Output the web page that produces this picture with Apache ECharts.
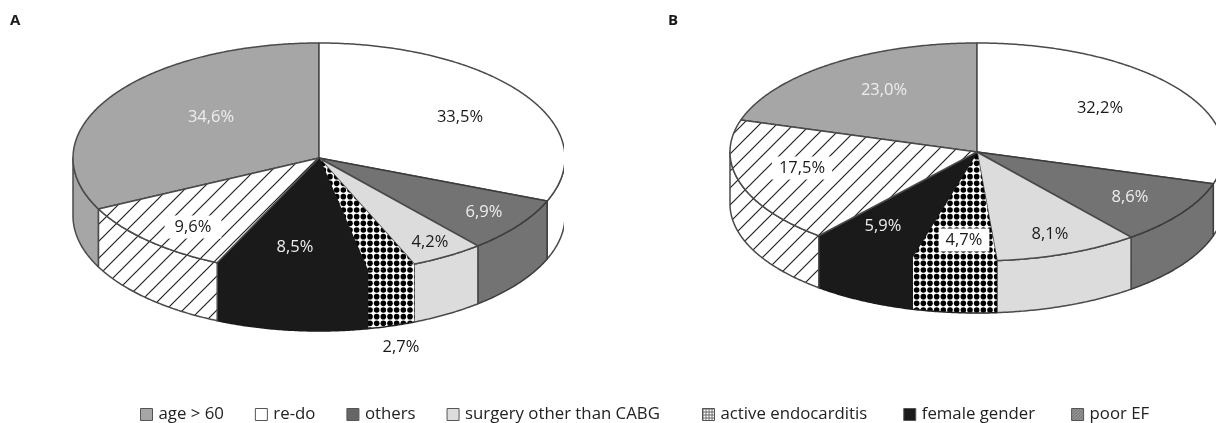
<!DOCTYPE html>
<html>
<head>
<meta charset="utf-8">
<style>
  html, body { margin: 0; padding: 0; background: #fff; }
  #chart { width: 1216px; height: 423px; }
</style>
<script src="https://cdn.jsdelivr.net/npm/echarts@6/dist/echarts.min.js"></script>
</head>
<body>
<div id="chart"></div>
<script>
// legend order; slices run clockwise from the second one at 12 o'clock
const categories = ['age > 60', 're-do', 'others', 'surgery other than CABG', 'active endocarditis', 'female gender', 'poor EF'];
const valuesA = [34.6, 33.5, 6.9, 4.2, 2.7, 8.5, 9.6];
const valuesB = [23.0, 32.2, 8.6, 8.1, 4.7, 5.9, 17.5];
const labelsA = ['34,6%', '33,5%', '6,9%', '4,2%', '2,7%', '8,5%', '9,6%'];
const labelsB = ['23,0%', '32,2%', '8,6%', '8,1%', '4,7%', '5,9%', '17,5%'];

// pie geometry
const pies = [
  { values: valuesA, labels: labelsA, cx: 319, cy: 158, rx: 246, ry: 115, depth: 58, clipRight: 564,
    labelPos: [[211, 117], [460, 117], [484, 212], [430, 242], [401, 347], [295, 247], [193, 227]] },
  { values: valuesB, labels: labelsB, cx: 977, cy: 152, rx: 247, ry: 109, depth: 52, clipRight: 1216,
    labelPos: [[884, 90], [1100, 108], [1130, 197], [1050, 234], [964, 240], [883, 226], [802, 168]] }
];
const perspective = 10; // degrees, the excel 3d pie squeezes slices toward the sides
const edgeColor = '#4a4a4a';
const fontFamily = '"Open Sans", sans-serif';

function makePattern(size, draw) {
  const c = document.createElement('canvas');
  c.width = size;
  c.height = size;
  const ctx = c.getContext('2d');
  ctx.fillStyle = '#fff';
  ctx.fillRect(0, 0, size, size);
  draw(ctx, size);
  return { image: c, repeat: 'repeat' };
}

// 3 x 3 dots in a 20px tile gives the 6.67px pitch of the original
const dots = makePattern(20, (ctx, s) => {
  const step = s / 3;
  ctx.fillStyle = '#000';
  for (let i = 0; i < 3; i++) {
    for (let j = 0; j < 3; j++) {
      ctx.beginPath();
      ctx.arc(step * (i + 0.5), step * (j + 0.5), 2.8, 0, Math.PI * 2);
      ctx.fill();
    }
  }
});
const hatch = makePattern(17, (ctx, s) => {
  ctx.strokeStyle = '#222';
  ctx.lineWidth = 1.2;
  ctx.beginPath();
  ctx.moveTo(-2, s + 2);
  ctx.lineTo(s + 2, -2);
  ctx.moveTo(-2, 2);
  ctx.lineTo(2, -2);
  ctx.moveTo(s - 2, s + 2);
  ctx.lineTo(s + 2, s - 2);
  ctx.stroke();
});
const gridIcon = makePattern(3, (ctx, s) => {
  ctx.fillStyle = '#666';
  ctx.fillRect(0, 0, s, 1);
  ctx.fillRect(0, 0, 1, s);
});
const hatchIcon = makePattern(3, (ctx, s) => {
  ctx.fillStyle = '#aaa';
  ctx.fillRect(0, 0, s, s);
  ctx.fillStyle = '#444';
  ctx.fillRect(2, 0, 1, 1);
  ctx.fillRect(1, 1, 1, 1);
  ctx.fillRect(0, 2, 1, 1);
});

const fills = ['#a6a6a6', '#fff', '#737373', '#dcdcdc', dots, '#1a1a1a', hatch];
const strokes = [edgeColor, edgeColor, '#3c3c3c', edgeColor, 'none', '#1a1a1a', edgeColor];
const iconFills = ['#a6a6a6', '#fff', '#666', '#dcdcdc', gridIcon, '#1a1a1a', hatchIcon];
const labelColors = ['#eee', '#1a1a1a', '#eee', '#1a1a1a', '#1a1a1a', '#eee', '#1a1a1a'];
// labels that sit on a pattern get a white box
const labelBoxes = [
  [null, null, null, null, null, null, [3, 10]],
  [null, null, null, null, [3, 7], null, [3, 7]]
];

function warp(deg) {
  return deg - perspective * Math.sin(deg * Math.PI / 180);
}

function sliceRange(pie, idx) {
  // the first slice ends at 12 o'clock
  let start = -pie.values[0] * 3.6;
  for (let i = 0; i < idx; i++) start += pie.values[i] * 3.6;
  return [start, start + pie.values[idx] * 3.6];
}

function rimPoint(pie, deg, drop) {
  const a = deg * Math.PI / 180;
  return [pie.cx + pie.rx * Math.sin(a), pie.cy - pie.ry * Math.cos(a) + drop];
}

function arcPoints(pie, from, to, drop) {
  const pts = [];
  const n = Math.max(2, Math.ceil(Math.abs(to - from) * 2));
  for (let i = 0; i <= n; i++) pts.push(rimPoint(pie, from + (to - from) * i / n, drop));
  return pts;
}

function renderSlice(catIdx, params, api) {
  const pieIdx = api.value(0);
  const pie = pies[pieIdx];
  const range = sliceRange(pie, catIdx);
  const a0 = warp(range[0]);
  const a1 = warp(range[1]);
  const fill = fills[catIdx];
  const stroke = strokes[catIdx];
  const children = [];

  // side wall, only the front half shows
  let wallFrom = Math.max(a0, 90);
  let wallTo = Math.min(a1, 270);
  if (a0 < 0) { wallFrom = Math.max(a0 + 360, 90); wallTo = 270; }
  if (wallTo > wallFrom) {
    const wall = arcPoints(pie, wallFrom, wallTo, 0).concat(arcPoints(pie, wallTo, wallFrom, pie.depth));
    children.push({
      type: 'polygon',
      shape: { points: wall },
      style: { fill: fill, stroke: stroke, lineWidth: 1.5, lineJoin: 'round' }
    });
    if (stroke === 'none') {
      // the dotted slice has no outline except along the bottom
      children.push({
        type: 'polyline',
        shape: { points: arcPoints(pie, wallFrom, wallTo, pie.depth) },
        z2: 4,
        style: { fill: 'none', stroke: '#222', lineWidth: 1.5 }
      });
    }
  }

  // top face
  const top = [[pie.cx, pie.cy]].concat(arcPoints(pie, a0, a1, 0));
  children.push({
    type: 'polygon',
    shape: { points: top },
    z2: 5,
    style: { fill: fill, stroke: stroke, lineWidth: 1.5, lineJoin: 'round' }
  });

  const pos = pie.labelPos[catIdx];
  const box = labelBoxes[pieIdx][catIdx];
  children.push({
    type: 'text',
    z2: 10,
    x: pos[0],
    y: pos[1],
    style: {
      text: pie.labels[catIdx],
      fill: labelColors[catIdx],
      font: '16.5px ' + fontFamily,
      align: 'center',
      verticalAlign: 'middle',
      backgroundColor: box ? '#fff' : 'transparent',
      padding: box || 0
    }
  });

  return {
    type: 'group',
    clipPath: { type: 'rect', shape: { x: pie.cx - pie.rx - 5, y: 0, width: pie.clipRight - (pie.cx - pie.rx - 5), height: 423 } },
    children: children
  };
}

function legendPart(from, to, left, gap) {
  return {
    left: left,
    top: 401,
    itemWidth: 12,
    itemHeight: 12,
    itemGap: gap,
    selectedMode: false,
    textStyle: { fontSize: 16.8, color: '#222', fontFamily: fontFamily, padding: [0, 0, 0, 1] },
    data: categories.slice(from, to).map((name, i) => ({
      name: name,
      icon: 'rect',
      itemStyle: { color: iconFills[from + i], borderColor: '#555', borderWidth: 1 }
    }))
  };
}

const chart = echarts.init(document.getElementById('chart'), null, { renderer: 'canvas' });

chart.setOption({
  animation: false,
  backgroundColor: '#fff',
  title: [
    { text: 'A', left: 5, top: 8, textStyle: { fontSize: 15, fontWeight: 700, color: '#1a1a1a', fontFamily: fontFamily } },
    { text: 'B', left: 663, top: 8, textStyle: { fontSize: 15, fontWeight: 700, color: '#1a1a1a', fontFamily: fontFamily } }
  ],
  legend: [legendPart(0, 4, 135, 31), legendPart(4, 7, 697, 36)],
  series: categories.map((name, i) => ({
    type: 'custom',
    name: name,
    coordinateSystem: 'none',
    silent: true,
    itemStyle: { color: '#a6a6a6' },
    data: [[0, valuesA[i]], [1, valuesB[i]]],
    renderItem: (params, api) => renderSlice(i, params, api)
  }))
});
</script>
</body>
</html>
